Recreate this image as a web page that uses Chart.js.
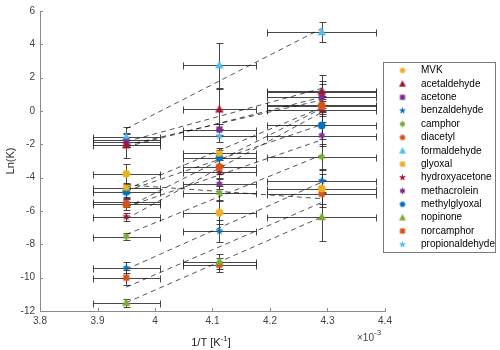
<!DOCTYPE html>
<html><head><meta charset="utf-8">
<script src="https://cdn.jsdelivr.net/npm/chart.js@4/dist/chart.umd.min.js"></script>
<style>html,body{margin:0;padding:0;background:#fff}#wrap{width:500px;height:350px;position:relative}</style>
</head><body><div id="wrap"><canvas id="c" width="500" height="350"></canvas></div>
<script>
// ---- data ----
const compounds = ['MVK','acetaldehyde','acetone','benzaldehyde','camphor','diacetyl','formaldehyde','glyoxal','hydroxyacetone','methacrolein','methylglyoxal','nopinone','norcamphor','propionaldehyde'];
const invT = [3.95, 4.112, 4.29];          // 1/T in 10^-3 K^-1
const invTErr = [0.058, 0.064, 0.095];     // horizontal error half-widths
const lnK_T1 = [-3.77, -2.05, -1.85, -9.4, -7.53, -5.6, -1.55, -4.6, -6.34, -5.48, -4.85, -11.5, -10.0, -1.75];
const lnK_T2 = [-6.1, 0.1, -1.11, -7.19, -4.91, -3.35, 2.75, -2.54, -3.66, -4.38, -2.79, -9.03, -9.23, -1.49];
const lnK_T3 = [-4.65, 1.17, 0.83, -4.18, -2.75, 0.34, 4.73, 0.3, 0.04, -1.47, -0.87, -6.36, -4.97, 1.2];
const err_T1 = [0.6, 0.75, 0.3, 0.33, 0.2, 0.35, 0.6, 0.3, 0.25, 0.3, 0.35, 0.25, 0.45, 0.4];
const err_T2 = [0.7, 1.2, 0.35, 0.65, 0.4, 0.4, 1.35, 0.3, 0.35, 0.3, 0.45, 0.45, 0.4, 0.35];
const err_T3 = [0.9, 1.0, 0.8, 0.7, 0.8, 0.5, 0.6, 0.6, 0.7, 0.6, 0.8, 1.45, 0.8, 0.6];
const fitStart = [-4.43, -1.84, -2.04, -9.50, -7.41, -5.80, -1.06, -4.70, -6.47, -5.76, -4.80, -11.50, -10.57, -2.15];
const fitEnd   = [-5.26, 1.36, 0.66, -4.27, -2.64, 0.15, 4.95, 0.21, -0.08, -1.73, -0.82, -6.36, -5.49, 0.83];
const xTicks = [3.8, 3.9, 4, 4.1, 4.2, 4.3, 4.4];
const yTicks = [-12, -10, -8, -6, -4, -2, 0, 2, 4, 6];

// ---- styles ----
const COL = {blue:'#0072BD', orange:'#D95319', yellow:'#EDB120', purple:'#7E2F8E', green:'#77AC30', cyan:'#4DBEEE', red:'#A2142F'};
const seriesColor = [COL.yellow, COL.red, COL.purple, COL.blue, COL.green, COL.orange, COL.cyan, COL.yellow, COL.red, COL.purple, COL.blue, COL.green, COL.orange, COL.cyan];
const seriesShape = ['circle','triangle','square','pentagram','hexagram','circle','triangle','square','pentagram','hexagram','circle','triangle','square','pentagram'];
const plotSize = {circle:3.7, triangle:4.1, square:2.8, pentagram:3.6, hexagram:3.5};
const legSize = {circle:2.5, triangle:3.2, square:2.3, pentagram:3.0, hexagram:3.0};

function marker(shape, color, s) {
  const size = Math.ceil(s * 2 + 3);
  const cv = document.createElement('canvas');
  cv.width = cv.height = size;
  const g = cv.getContext('2d');
  const c = size / 2;
  g.fillStyle = color; g.strokeStyle = color; g.lineWidth = 0.5;
  g.beginPath();
  if (shape === 'circle') g.arc(c, c, s, 0, Math.PI * 2);
  else if (shape === 'square') g.rect(c - s, c - s, 2 * s, 2 * s);
  else if (shape === 'triangle') { g.moveTo(c, c - s); g.lineTo(c + s * 0.95, c + s * 0.75); g.lineTo(c - s * 0.95, c + s * 0.75); g.closePath(); }
  else {
    const n = shape === 'pentagram' ? 5 : 6;
    const ri = shape === 'pentagram' ? s * 0.42 : s * 0.6;
    for (let i = 0; i < 2 * n; i++) {
      const r = i % 2 ? ri : s;
      const a = -Math.PI / 2 + i * Math.PI / n;
      const px = c + r * Math.cos(a), py = c + r * Math.sin(a);
      if (i) g.lineTo(px, py); else g.moveTo(px, py);
    }
    g.closePath();
  }
  g.fill(); g.stroke();
  return cv;
}

const cols = [lnK_T1, lnK_T2, lnK_T3];
const errs = [err_T1, err_T2, err_T3];

const datasets = [];
compounds.forEach((name, i) => {
  datasets.push({
    type: 'line', label: name + ' fit',
    data: [{x: invT[0], y: fitStart[i]}, {x: invT[2], y: fitEnd[i]}],
    borderColor: 'rgba(0,0,0,0.85)', borderWidth: 0.8, borderDash: [5, 4],
    pointRadius: 0, fill: false, order: 3
  });
});
compounds.forEach((name, i) => {
  datasets.push({
    type: 'scatter', label: name,
    data: invT.map((xv, j) => ({x: xv, y: cols[j][i]})),
    pointStyle: marker(seriesShape[i], seriesColor[i], plotSize[seriesShape[i]]),
    backgroundColor: seriesColor[i], borderColor: seriesColor[i],
    pointRadius: 4, order: 1
  });
});

const AX = '#8a8a8a', TXT = '#404040';
const px = v => Math.round(v) + 0.5;

const errorBars = {
  id: 'errorBars',
  beforeDatasetsDraw(chart) {
    const {ctx, scales: {x, y}} = chart;
    ctx.save();
    ctx.strokeStyle = 'rgba(40,40,40,0.85)'; ctx.lineWidth = 1;
    compounds.forEach((name, i) => {
      for (let j = 0; j < 3; j++) {
        const xv = invT[j], yv = cols[j][i], ey = errs[j][i], ex = invTErr[j];
        const cx = px(x.getPixelForValue(xv)), cy = px(y.getPixelForValue(yv));
        const x0 = px(x.getPixelForValue(xv - ex)), x1 = px(x.getPixelForValue(xv + ex));
        const y0 = px(y.getPixelForValue(yv - ey)), y1 = px(y.getPixelForValue(yv + ey));
        ctx.beginPath();
        ctx.moveTo(x0, cy); ctx.lineTo(x1, cy);
        ctx.moveTo(x0, cy - 3); ctx.lineTo(x0, cy + 4);
        ctx.moveTo(x1, cy - 3); ctx.lineTo(x1, cy + 4);
        ctx.moveTo(cx, y0); ctx.lineTo(cx, y1);
        ctx.moveTo(cx - 3, y0); ctx.lineTo(cx + 4, y0);
        ctx.moveTo(cx - 3, y1); ctx.lineTo(cx + 4, y1);
        ctx.stroke();
      }
    });
    ctx.restore();
  },
  afterDraw(chart) {
    const {ctx, chartArea: ca, scales: {x, y}} = chart;
    ctx.save();
    // inward ticks
    ctx.strokeStyle = AX; ctx.lineWidth = 1;
    ctx.beginPath();
    xTicks.forEach(v => { const p = px(x.getPixelForValue(v)); ctx.moveTo(p, ca.bottom); ctx.lineTo(p, ca.bottom - 3); });
    yTicks.forEach(v => { const p = px(y.getPixelForValue(v)); ctx.moveTo(ca.left, p); ctx.lineTo(ca.left + 3, p); });
    ctx.stroke();
    // x-axis title with superscript
    ctx.fillStyle = '#262626';
    ctx.textBaseline = 'alphabetic';
    const f1 = '11px "Liberation Sans", Arial, sans-serif', f2 = '8px "Liberation Sans", Arial, sans-serif';
    ctx.font = f1; const wA = ctx.measureText('1/T [K').width, wC = ctx.measureText(']').width;
    ctx.font = f2; const wB = ctx.measureText('-1').width;
    let sx = 211 - (wA + wB + wC) / 2;
    const base = 346;
    ctx.font = f1; ctx.textAlign = 'left'; ctx.fillText('1/T [K', sx, base);
    ctx.font = f2; ctx.fillText('-1', sx + wA, base - 5);
    ctx.font = f1; ctx.fillText(']', sx + wA + wB, base);
    // x10^-3 multiplier
    ctx.fillStyle = TXT;
    ctx.font = '10px "Liberation Sans", Arial, sans-serif';
    const wm = ctx.measureText('\u00d710').width;
    ctx.fillText('\u00d710', 357, 341);
    ctx.font = f2; ctx.fillText('-3', 357 + wm, 335);
    // legend
    const lx = 383, ly = 62, lw = 112, lh = 190;
    ctx.fillStyle = '#ffffff'; ctx.fillRect(lx, ly, lw, lh);
    ctx.strokeStyle = '#7a7a7a'; ctx.lineWidth = 1;
    ctx.strokeRect(lx + 0.5, ly + 0.5, lw, lh);
    ctx.font = '10px "Liberation Sans", Arial, sans-serif';
    ctx.fillStyle = '#000'; ctx.textBaseline = 'middle';
    compounds.forEach((name, i) => {
      const yy = 70.5 + i * 13.38;
      const m = marker(seriesShape[i], seriesColor[i], legSize[seriesShape[i]]);
      ctx.drawImage(m, 402.5 - m.width / 2, yy - m.height / 2);
      ctx.fillText(name, 421, yy);
    });
    ctx.restore();
  }
};

Chart.defaults.font.family = '"Liberation Sans", Arial, Helvetica, sans-serif';
Chart.defaults.font.size = 10;
Chart.defaults.color = TXT;

new Chart(document.getElementById('c'), {
  data: {datasets},
  options: {
    responsive: false, animation: false, devicePixelRatio: 1,
    layout: {padding: {left: 0, right: 115, top: 8, bottom: 0}},
    plugins: {legend: {display: false}, tooltip: {enabled: false}},
    scales: {
      x: {
        type: 'linear', min: 3.8, max: 4.4,
        afterBuildTicks: s => { s.ticks = xTicks.map(v => ({value: v})); },
        afterFit: s => { s.height = 39; },
        ticks: {padding: 4, color: TXT, maxRotation: 0, callback: v => String(v)},
        grid: {display: false, drawTicks: false},
        border: {display: true, color: AX, width: 1}
      },
      y: {
        type: 'linear', min: -12, max: 6,
        afterBuildTicks: s => { s.ticks = yTicks.map(v => ({value: v})); },
        afterFit: s => { s.width = 40; },
        ticks: {padding: 5, color: TXT, callback: v => String(v)},
        grid: {display: false, drawTicks: false},
        border: {display: true, color: AX, width: 1},
        title: {display: true, text: 'Ln(K)', color: '#262626', font: {size: 11}, padding: {top: 4, bottom: 0}}
      }
    }
  },
  plugins: [errorBars]
});
</script>
</body></html>
